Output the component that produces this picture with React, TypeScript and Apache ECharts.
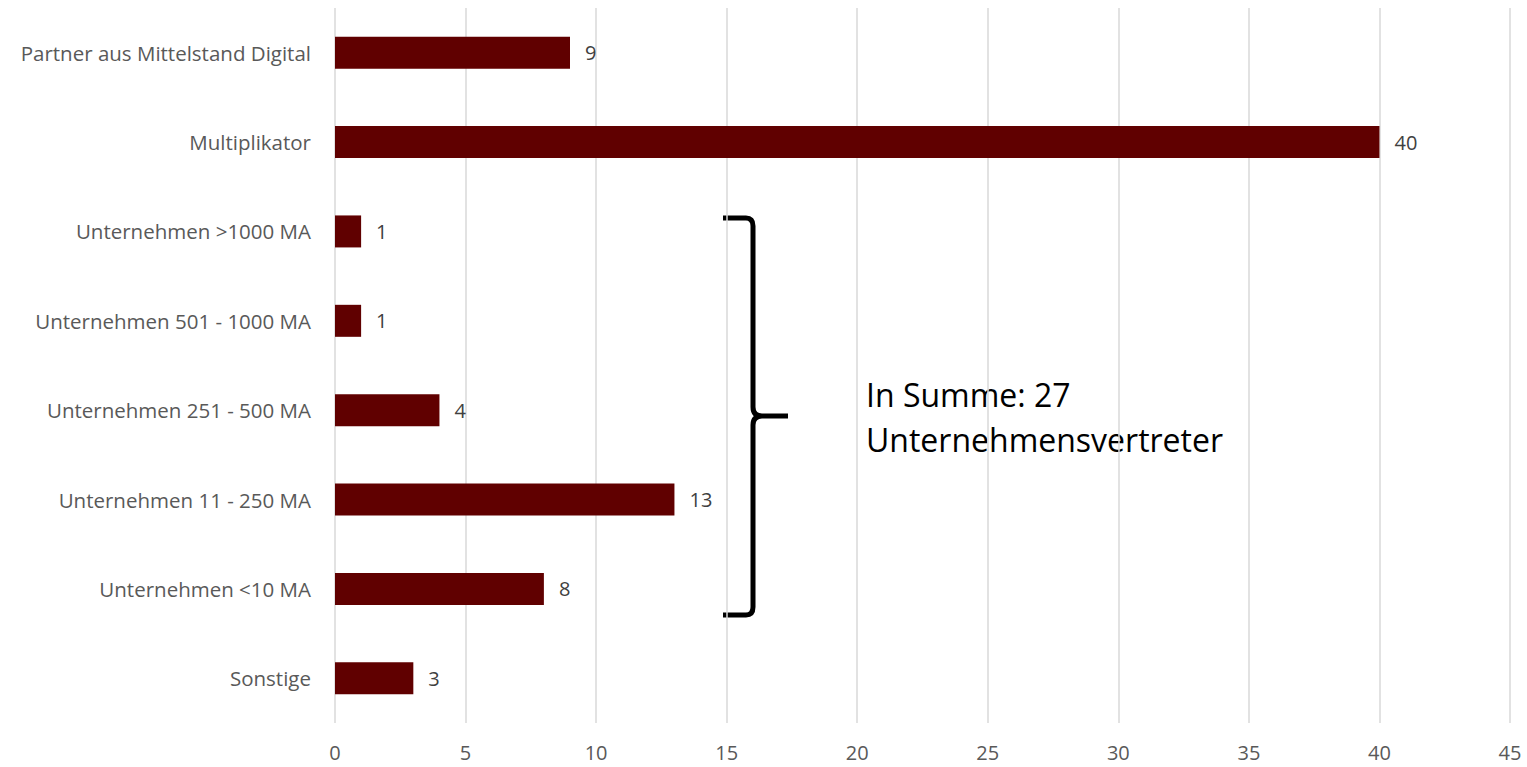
import React, { useEffect, useRef } from "react";
import * as echarts from "echarts";

const categories = [
  "Partner aus Mittelstand Digital",
  "Multiplikator",
  "Unternehmen >1000 MA",
  "Unternehmen 501 - 1000 MA",
  "Unternehmen 251 - 500 MA",
  "Unternehmen 11 - 250 MA",
  "Unternehmen <10 MA",
  "Sonstige",
];
const values = [9, 40, 1, 1, 4, 13, 8, 3];
const annotationLines = ["In Summe: 27", "Unternehmensvertreter"];

const FONT = "'Open Sans', Lato, sans-serif";

const bracePath =
  "M723,218 L746,218 Q753,218 753,226 L753,407 Q753,416 762,416 L788,416 M762,416 Q753,416 753,425 L753,607 Q753,615 746,615 L723,615";

export default function App() {
  const ref = useRef<HTMLDivElement>(null);
  useEffect(() => {
    if (!ref.current) return;
    try {
      echarts.graphic.registerShape("brace", echarts.graphic.extendPath(bracePath, {}));
    } catch (e) {}
    const chart = echarts.init(ref.current, undefined, { renderer: "svg" });
    chart.setOption({
      animation: false,
      backgroundColor: "#ffffff",
      grid: { left: 335, right: 17, top: 8, bottom: 44, containLabel: false },
      xAxis: {
        type: "value",
        min: 0,
        max: 45,
        interval: 5,
        axisLine: { show: false },
        axisTick: { show: false },
        splitLine: { show: true, lineStyle: { color: "#d9d9d9", width: 1.5 } },
        axisLabel: { color: "#595959", fontSize: 20, fontFamily: FONT, margin: 19 },
      },
      yAxis: {
        type: "category",
        inverse: true,
        data: categories,
        axisLine: { show: false },
        axisTick: { show: false },
        axisLabel: { color: "#595959", fontSize: 20.5, fontFamily: FONT, margin: 24 },
      },
      series: [
        {
          type: "bar",
          data: values,
          barWidth: 32,
          itemStyle: { color: "#600000" },
          label: {
            show: true,
            position: "right",
            distance: 15,
            color: "#404040",
            fontSize: 20,
            fontFamily: FONT,
          },
        },
      ],
      graphic: [
        {
          type: "brace",
          x: 0,
          y: 0,
          style: { fill: "none", stroke: "#000000", lineWidth: 5 },
        },
        {
          type: "text",
          x: 866,
          y: 372,
          style: {
            text: annotationLines.join("\n"),
            fill: "#000000",
            fontSize: 32,
            fontFamily: FONT,
            lineHeight: 45,
          },
        },
      ],
    });
    return () => chart.dispose();
  }, []);
  return (
    <div
      ref={ref}
      style={{ position: "fixed", left: 0, top: 0, width: 1527, height: 767 }}
    />
  );
}
